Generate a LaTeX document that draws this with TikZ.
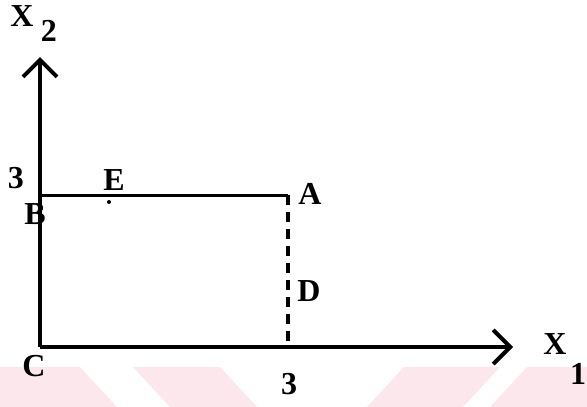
\documentclass[tikz,border=0pt]{standalone}
\usepackage{fontspec}
\setmainfont{Liberation Serif}
\usetikzlibrary{arrows.meta}
\definecolor{wm}{HTML}{FCE8EC}
\tikzset{
  lbl/.style={inner sep=0pt, font=\fontsize{32}{34}\selectfont\bfseries},
  axis/.style={line width=4pt, -{Straight Barb[length=17pt,width=34pt,line width=4pt]}},
  edge/.style={line width=3pt},
  dashedge/.style={line width=3.2pt, dash pattern=on 10pt off 7pt}
}
\begin{document}
\begin{tikzpicture}[x=1pt,y=-1pt]
\useasboundingbox (0,0) rectangle (587,407);
% watermark
\fill[wm] (0,367) -- (80,367) -- (117,407) -- (0,407) -- cycle;
\fill[wm] (133,367) -- (220,367) -- (257,407) -- (170,407) -- cycle;
\fill[wm] (367,407) -- (404,367) -- (500,367) -- (463,407) -- cycle;
\fill[wm] (527,367) -- (587,367) -- (587,407) -- (490,407) -- cycle;
% points
\coordinate (C) at (40,347);
\coordinate (Ytip) at (40,57);
\coordinate (Xtip) at (513,347);
\coordinate (B) at (40,195);
\coordinate (A) at (288,195);
\coordinate (A1) at (288,347);
\draw[axis] (C) -- (Ytip);
\draw[axis] (C) -- (Xtip);
\draw[edge] (B) -- (A);
\draw[dashedge] (A) -- (A1);
\fill (109,202) circle (2pt) coordinate (Edot);
% labels
\node[lbl] (x2) at (22,16) {X};
\node[lbl] (x2s) at (49,31) {2};
\node[lbl] (x1) at (555,344) {X};
\node[lbl] (x1s) at (578,374) {1};
\node[lbl] (t3l) at (16,178) {3};
\node[lbl] (lE) at (114,180) {E};
\node[lbl] (lB) at (35,214) {B};
\node[lbl] (lA) at (310,194) {A};
\node[lbl] (lD) at (309,291) {D};
\node[lbl] (lC) at (34,366) {C};
\node[lbl] (t3b) at (289,384) {3};
\end{tikzpicture}
\end{document}
